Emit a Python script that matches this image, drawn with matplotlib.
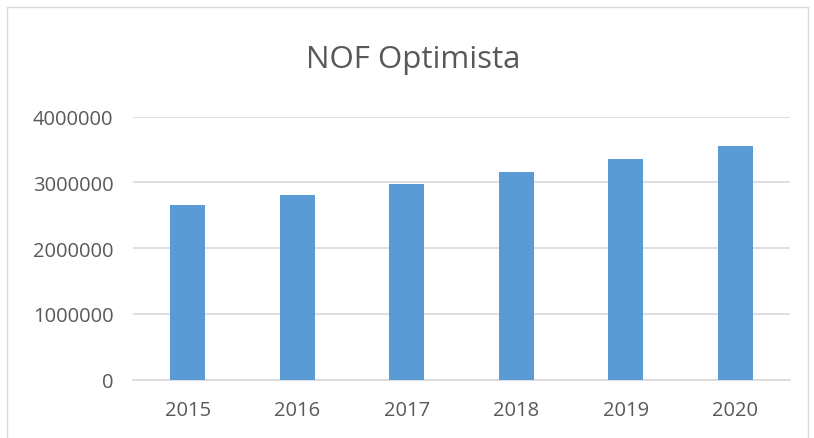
import matplotlib
matplotlib.use("Agg")
import matplotlib.pyplot as plt
from matplotlib.patches import Rectangle

years = ["2015", "2016", "2017", "2018", "2019", "2020"]
values = [2656000, 2813000, 2976000, 3163000, 3351000, 3554000]
yticks = [0, 1000000, 2000000, 3000000, 4000000]
title = "NOF Optimista"

W, H = 814, 439
fig = plt.figure(figsize=(W / 100, H / 100), dpi=100)
fig.patch.set_facecolor("white")
# chart border
fig.patches.append(Rectangle((7 / W, -0.01), (808 - 7) / W, 1 - 8 / H + 0.01,
                             transform=fig.transFigure, fill=False,
                             edgecolor="#D9D9D9", linewidth=1.0))

ax = fig.add_axes([133 / W, 1 - 380.5 / H, (790 - 133) / W, (380.5 - 117.7) / H])
x = range(len(years))
ax.bar(x, values, width=0.32, color="#5B9BD5", zorder=3)
ax.set_xlim(-0.5, len(years) - 0.5)
ax.set_ylim(0, 4000000)
ax.set_yticks(yticks)
ax.set_yticklabels([str(v) for v in yticks])
ax.set_xticks(list(x))
ax.set_xticklabels(years)
ax.grid(axis="y", color="#D9D9D9", linewidth=1.2, zorder=0)
for s in ["top", "right", "left"]:
    ax.spines[s].set_visible(False)
ax.spines["bottom"].set_color("#D9D9D9")
ax.spines["bottom"].set_linewidth(1.2)
ax.tick_params(axis="both", length=0, labelsize=14.5, labelcolor="#595959",
               labelfontfamily="Open Sans")
ax.tick_params(axis="x", pad=15)
ax.tick_params(axis="y", pad=14)
fig.text(413 / W, 1 - 60 / H, title, ha="center", va="center", fontsize=22.5,
         color="#595959", family="Open Sans")

fig.savefig("out.png", dpi=100)
